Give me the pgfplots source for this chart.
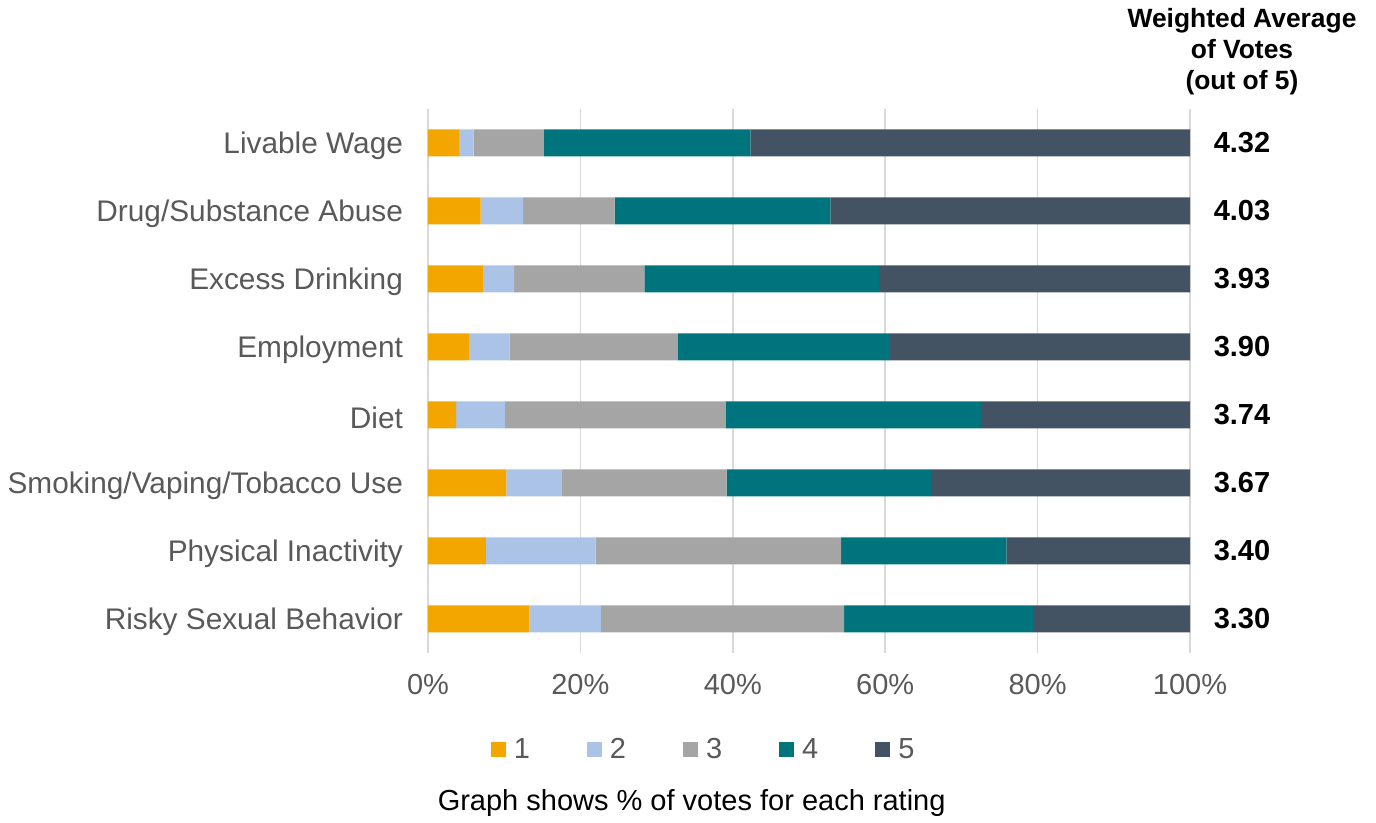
\documentclass[border=0pt]{standalone}
\usepackage{pgfplots}
\pgfplotsset{compat=1.18}
\usepackage{pgfplotstable}
\usepackage{fontspec}
\setmainfont{Liberation Sans}
\usetikzlibrary{calc}

\definecolor{rOne}{HTML}{F4A600}
\definecolor{rTwo}{HTML}{AAC3E7}
\definecolor{rThree}{HTML}{A5A5A5}
\definecolor{rFour}{HTML}{00747D}
\definecolor{rFive}{HTML}{435364}
\definecolor{txtgray}{HTML}{595959}
\definecolor{gridgray}{HTML}{D9D9D9}

% share of votes (%) per rating, row 0 = bottom bar
\pgfplotstableread{
y  r1   r2   r3   r4   r5
0  13.3 9.4  31.9 24.8 20.6
1  7.6  14.4 32.2 21.7 24.1
2  10.3 7.2  21.7 26.8 34.0
3  3.7  6.4  29.0 33.5 27.4
4  5.4  5.3  22.1 27.8 39.4
5  7.3  4.0  17.1 30.8 40.8
6  6.9  5.6  12.0 28.3 47.2
7  4.1  1.9  9.2  27.1 57.7
}\votes

\newcommand{\fs}{\fontsize{14.5}{17}\selectfont}

\begin{document}
\begin{tikzpicture}
\begin{axis}[
  name=ax,
  xbar stacked,
  bar width=13.5pt,
  width=381pt, height=272pt,
  scale only axis,
  xmin=0, xmax=100,
  ymin=-0.5, ymax=7.5,
  xtick={0,20,40,60,80,100},
  xticklabels={0\%,20\%,40\%,60\%,80\%,100\%},
  ytick={0,...,7},
  yticklabels={Risky Sexual Behavior,Physical Inactivity,Smoking/Vaping/Tobacco Use,Diet,Employment,Excess Drinking,Drug/Substance Abuse,Livable Wage},
  xmajorgrids,
  grid style={gridgray, line width=0.75pt},
  axis line style={draw=none},
  major tick length=0pt,
  xticklabel style={font=\fs, text=txtgray, yshift=-7pt},
  yticklabel style={font=\fontsize{14.9}{17}\selectfont, text=txtgray, xshift=-9pt, yshift=-1.5pt},
  legend columns=5,
  legend style={draw=none, at={(0.363,-0.178)}, anchor=center,
    font=\fs, text=txtgray,
    /tikz/every odd column/.append style={column sep=2pt},
    /tikz/every even column/.append style={column sep=26.5pt}},
  legend image code/.code={\fill[#1] (0pt,-3.75pt) rectangle (7.5pt,3.75pt);},
  clip=false,
]
\addplot[fill=rOne, draw=none] table[x=r1, y=y] {\votes};
\addlegendentry{1}
\addplot[fill=rTwo, draw=none] table[x=r2, y=y] {\votes};
\addlegendentry{2}
\addplot[fill=rThree, draw=none] table[x=r3, y=y] {\votes};
\addlegendentry{3}
\addplot[fill=rFour, draw=none] table[x=r4, y=y] {\votes};
\addlegendentry{4}
\addplot[fill=rFive, draw=none] table[x=r5, y=y] {\votes};
\addlegendentry{5}

% weighted averages on the right
\node[font=\fs\bfseries] at ([xshift=26pt]axis cs:100,7) {4.32};
\node[font=\fs\bfseries] at ([xshift=26pt]axis cs:100,6) {4.03};
\node[font=\fs\bfseries] at ([xshift=26pt]axis cs:100,5) {3.93};
\node[font=\fs\bfseries] at ([xshift=26pt]axis cs:100,4) {3.90};
\node[font=\fs\bfseries] at ([xshift=26pt]axis cs:100,3) {3.74};
\node[font=\fs\bfseries] at ([xshift=26pt]axis cs:100,2) {3.67};
\node[font=\fs\bfseries] at ([xshift=26pt]axis cs:100,1) {3.40};
\node[font=\fs\bfseries] at ([xshift=26pt]axis cs:100,0) {3.30};
\end{axis}
\node[font=\fontsize{13.2}{15.5}\selectfont\bfseries, align=center, anchor=center]
  at ([xshift=26pt,yshift=28.5pt]ax.north east) {Weighted Average\\of Votes\\(out of 5)};
\node[font=\fs, anchor=center] at ($(ax.south west)!0.346!(ax.south east) + (0,-75pt)$)
  {Graph shows \% of votes for each rating};
\pgfresetboundingbox
\path ([xshift=-214pt,yshift=-85pt]ax.south west) rectangle ([xshift=93pt,yshift=54.5pt]ax.north east);
\end{tikzpicture}
\end{document}
